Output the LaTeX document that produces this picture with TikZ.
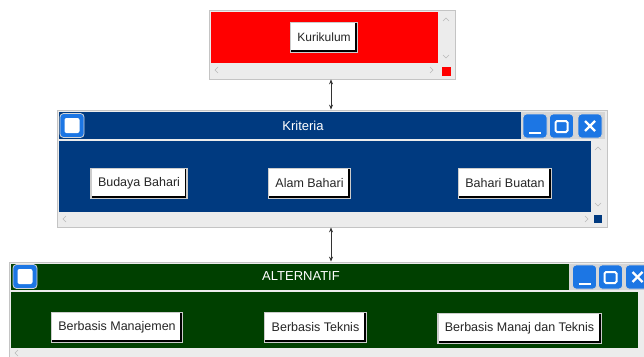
\documentclass[tikz,border=0pt]{standalone}
\usepackage{fontspec}
\setmainfont{Liberation Sans}
\usetikzlibrary{arrows.meta}

\definecolor{merah}{RGB}{255,0,0}
\definecolor{biruTua}{RGB}{0,58,128}
\definecolor{hijauTua}{RGB}{0,64,0}
\definecolor{ikonBiru}{RGB}{28,118,228}
\definecolor{bingkai}{RGB}{196,196,196}
\definecolor{gulir}{RGB}{236,236,236}
\definecolor{ubin}{RGB}{214,214,214}

\tikzset{
	jendela/.style={draw=bingkai, fill=gulir, line width=0.8pt, inner sep=0pt},
	tombol/.style={draw=gray!40, line width=1.4pt, fill=white, text=black!85,
		font=\fontsize{12.5}{14}\selectfont, inner xsep=7pt, minimum height=30pt,
		path picture={\draw[draw=black, line width=5pt] (path picture bounding box.north east)
			-- (path picture bounding box.south east) -- (path picture bounding box.south west);}},
	judul/.style={text=white, font=\fontsize{13}{15}\selectfont, inner sep=0pt},
	ikon/.style={fill=ikonBiru, draw=ubin, line width=0.8pt, rounded corners=3.5pt, minimum size=24pt, inner sep=0pt},
	isiIkon/.style={fill=white, rounded corners=2pt, inner sep=0pt},
	gulirPanah/.style={draw=gray!55, line width=0.6pt},
	panah/.style={{Stealth[length=5pt,width=4pt]}-{Stealth[length=5pt,width=4pt]}, line width=0.7pt, black!80}
}

\begin{document}
\begin{tikzpicture}[x=1pt,y=-1pt]
	\useasboundingbox (0,0) rectangle (644,356);
	\clip (0,0) rectangle (644,356);
	
	%kurikulum
	\node[jendela, minimum width=246pt, minimum height=69pt] (kurWin) at (332,44.5) {};
	\fill[merah] (211,12) rectangle (438,63);
	\draw[gulirPanah] (443,21) -- (446,18) -- (449,21);
	\draw[gulirPanah] (443,55) -- (446,58) -- (449,55);
	\draw[gulirPanah] (218,67) -- (215,70) -- (218,73);
	\draw[gulirPanah] (430,67) -- (433,70) -- (430,73);
	\fill[merah] (442,67) rectangle (451,76);
	\node[tombol, font=\fontsize{12}{14}\selectfont] (kurikulum) at (324,37.5) {Kurikulum};
	
	%kriteria
	\node[jendela, minimum width=550pt, minimum height=117pt] (kriWin) at (332,168.5) {};
	\fill[biruTua] (59,112) rectangle (521,139);
	\fill[ubin] (521,112) rectangle (605,139);
	\fill[biruTua] (59,141) rectangle (591,212);
	\draw[gulirPanah] (595,150) -- (598,147) -- (601,150);
	\draw[gulirPanah] (595,203) -- (598,206) -- (601,203);
	\draw[gulirPanah] (66,216) -- (63,219) -- (66,222);
	\draw[gulirPanah] (585,216) -- (588,219) -- (585,222);
	\fill[biruTua] (594,215) rectangle (602,223);
	\node[judul] (kriJudul) at (303,126) {Kriteria};
	
	\node[ikon] (kriIkon) at (72,125.5) {};
	\node[isiIkon, minimum size=15pt] at (kriIkon) {};
	\node[ikon] (kriMin) at (535,126) {};
	\draw[white, line width=2pt] ([shift={(-6,7)}]kriMin.center) -- ([shift={(6,7)}]kriMin.center);
	\node[ikon] (kriMax) at (561.5,126) {};
	\draw[white, line width=2pt, rounded corners=1.5pt] ([shift={(-6,-5)}]kriMax.center) rectangle ([shift={(6,6)}]kriMax.center);
	\node[ikon] (kriTutup) at (590,126) {};
	\draw[white, line width=2.4pt] ([shift={(-5,-5)}]kriTutup.center) -- ([shift={(5,5)}]kriTutup.center);
	\draw[white, line width=2.4pt] ([shift={(-5,5)}]kriTutup.center) -- ([shift={(5,-5)}]kriTutup.center);
	
	\node[tombol] (budaya) at (139,183.5) {Budaya Bahari};
	\node[tombol] (alam) at (309.5,183.5) {Alam Bahari};
	\node[tombol] (buatan) at (505,183.5) {Bahari Buatan};
	
	%alternatif
	\node[jendela, minimum width=645pt, minimum height=100pt] (altWin) at (331.5,312) {};
	\fill[hijauTua] (11,264) rectangle (569,290);
	\fill[ubin] (569,264) rectangle (650,290);
	\fill[hijauTua] (11,292) rectangle (638,348);
	\draw[gulirPanah] (18,350) -- (15,353) -- (18,356);
	\node[judul] (altJudul) at (301,276) {ALTERNATIF};
	
	\node[ikon] (altIkon) at (25,276.5) {};
	\node[isiIkon, minimum size=15pt] at (altIkon) {};
	\node[ikon] (altMin) at (584.5,277) {};
	\draw[white, line width=2pt] ([shift={(-6,7)}]altMin.center) -- ([shift={(6,7)}]altMin.center);
	\node[ikon] (altMax) at (610.5,277) {};
	\draw[white, line width=2pt, rounded corners=1.5pt] ([shift={(-6,-5)}]altMax.center) rectangle ([shift={(6,6)}]altMax.center);
	\node[ikon] (altTutup) at (637.5,277) {};
	\draw[white, line width=2.4pt] ([shift={(-5,-5)}]altTutup.center) -- ([shift={(5,5)}]altTutup.center);
	\draw[white, line width=2.4pt] ([shift={(-5,5)}]altTutup.center) -- ([shift={(5,-5)}]altTutup.center);
	
	\node[tombol] (manajemen) at (117,327.5) {Berbasis Manajemen};
	\node[tombol] (teknis) at (315.5,327.5) {Berbasis Teknis};
	\node[tombol] (gabungan) at (519.5,328.5) {Berbasis Manaj dan Teknis};
	
	%panah
	\coordinate (sumbu) at (331,0);
	\draw[panah] (kurWin.south -| sumbu) -- (kriWin.north -| sumbu);
	\draw[panah] (kriWin.south -| sumbu) -- (altWin.north -| sumbu);
	
\end{tikzpicture}
\end{document}
